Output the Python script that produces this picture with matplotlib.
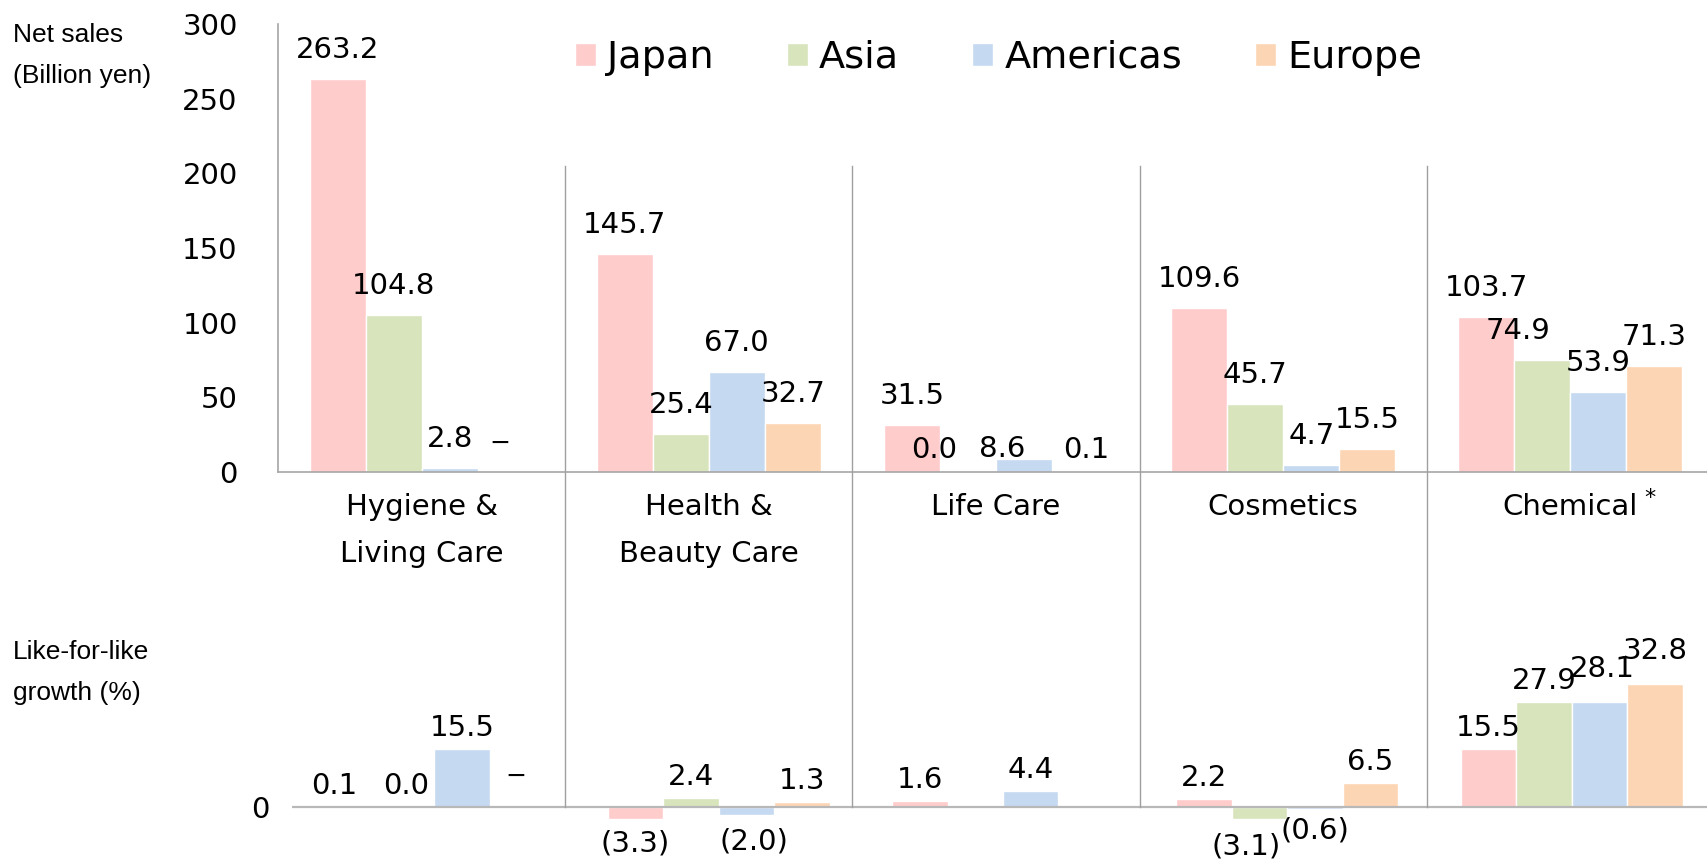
import numpy as np
import matplotlib
matplotlib.use("Agg")
import matplotlib.pyplot as plt
from matplotlib.lines import Line2D
from matplotlib.transforms import blended_transform_factory

# ── data ───────────────────────────────────────────────────────────────────────
categories = ["Hygiene &\nLiving Care", "Health &\nBeauty Care", "Life Care",
              "Cosmetics", "Chemical"]
regions = ["Japan", "Asia", "Americas", "Europe"]

# net sales, billion yen   (None -> shown as a dash, no bar)
sales_japan    = [263.2, 145.7, 31.5, 109.6, 103.7]
sales_asia     = [104.8,  25.4,  0.0,  45.7,  74.9]
sales_americas = [  2.8,  67.0,  8.6,   4.7,  53.9]
sales_europe   = [ None,  32.7,  0.1,  15.5,  71.3]

# like-for-like growth, %  (None -> dash, nan -> nothing at all)
growth_japan    = [ 0.1, -3.3,    1.6,  2.2, 15.5]
growth_asia     = [ 0.0,  2.4, np.nan, -3.1, 27.9]
growth_americas = [15.5, -2.0,    4.4, -0.6, 28.1]
growth_europe   = [None,  1.3, np.nan,  6.5, 32.8]

sales_ticks = [0, 50, 100, 150, 200, 250, 300]

# ── styling ────────────────────────────────────────────────────────────────────
COLORS   = ["#FFCCCC", "#D8E4BC", "#C5D9F1", "#FCD5B4"]
AXIS_COL = "#A6A6A6"
ZERO_COL = "#B8B8B8"
SEP_COL  = "#A0A0A0"
NUM_FONT = "DejaVu Sans"
SIDE_FONT = ["Liberation Sans", "DejaVu Sans"]

W, H, DPI = 1708, 866, 100
PT = 72 / DPI          # pixels -> points
BAR_W = 0.195

plt.rcParams.update({
    "font.family": NUM_FONT,
    "font.size": 21,
    "text.color": "black",
})

# hand placed label tweaks, in pixels (dx, dy): panel, series, category
NUDGE = {
    ("sales", 1, 2): (-34, -7),
    ("sales", 2, 2): (-22, -19),
    ("sales", 3, 2): (6, -7),
    ("sales", 1, 4): (-24, 0),
    ("sales", 3, 0): (-6, 0),
    ("growth", 0, 0): (-17, 0),
    ("growth", 3, 0): (-2, 10),
    ("growth", 1, 3): (-14, -4),
    ("growth", 2, 3): (0, 3),
    ("growth", 2, 1): (8, -3),
    ("growth", 2, 4): (3, 12),
    ("growth", 3, 4): (0, 12),
}


def fmt(v):
    if v is None:
        return "\u2212"
    if np.isnan(v):
        return ""
    return f"({abs(v):.1f})" if v < 0 else f"{v:.1f}"


def draw_panel(ax, series, panel, up_px, down_px):
    x = np.arange(len(categories))
    bars = []
    for i, vals in enumerate(series):
        h = np.array([np.nan if v is None else v for v in vals], dtype=float)
        b = ax.bar(x + (i - 1.5) * BAR_W, h, width=BAR_W, color=COLORS[i],
                   edgecolor="white", linewidth=1.0, zorder=2, label=regions[i])
        bars.append(b)
        for j, v in enumerate(vals):
            txt = fmt(v)
            if not txt:
                continue
            y = 0 if v is None else v
            dx, dy = NUDGE.get((panel, i, j), (0, 0))
            off = -down_px if (v is not None and v < 0) else up_px
            ax.annotate(txt, xy=(x[j] + (i - 1.5) * BAR_W, y),
                        xytext=(dx * PT, (off + dy) * PT),
                        textcoords="offset points", ha="center", va="center",
                        fontsize=18 if v is None else 21,
                        annotation_clip=False)
    return bars


fig = plt.figure(figsize=(W / DPI, H / DPI), dpi=DPI)

# ── top: net sales ─────────────────────────────────────────────────────────────
ax_top = fig.add_axes([278 / W, 1 - 472 / H, 1436 / W, 448 / H])
bars = draw_panel(ax_top, [sales_japan, sales_asia, sales_americas, sales_europe],
                  "sales", 29, 24)
ax_top.set_xlim(-0.5, 4.5)
ax_top.set_ylim(0, 300)
ax_top.set_yticks(sales_ticks)
ax_top.set_xticks(range(len(categories)))
ax_top.set_xticklabels(categories, fontsize=21, linespacing=1.85)
ax_top.tick_params(axis="x", length=0, pad=15)
ax_top.tick_params(axis="y", length=0, pad=29, labelsize=21)
for s in ("top", "right"):
    ax_top.spines[s].set_visible(False)
for s in ("left", "bottom"):
    ax_top.spines[s].set_color(AXIS_COL)
    ax_top.spines[s].set_linewidth(1.2)
ax_top.annotate("*", xy=(4, 0), xytext=(80 * PT, -26 * PT),
                textcoords="offset points", ha="center", va="center",
                fontsize=16, annotation_clip=False)

# ── bottom: like-for-like growth ───────────────────────────────────────────────
ax_bot = fig.add_axes([292 / W, 1 - 844.5 / H, 1422 / W, 187.5 / H])
draw_panel(ax_bot, [growth_japan, growth_asia, growth_americas, growth_europe],
           "growth", 21, 24)
ax_bot.set_xlim(-0.5, 4.5)
ax_bot.set_ylim(-10, 40)
ax_bot.axhline(0, color=ZERO_COL, linewidth=1.6, zorder=3)
ax_bot.set_xticks([])
ax_bot.set_yticks([0])
ax_bot.tick_params(axis="y", length=0, pad=16, labelsize=21)
for s in ax_bot.spines.values():
    s.set_visible(False)
ax_bot.patch.set_alpha(0)

# category separators running through both panels
trans = blended_transform_factory(ax_top.transData, fig.transFigure)
for k in range(1, len(categories)):
    fig.add_artist(Line2D([k - 0.5, k - 0.5], [1 - 166 / H, 1 - 807 / H],
                          transform=trans, color=SEP_COL, linewidth=1.0))

# side captions
fig.text(13 / W, 1 - 35 / H, "Net sales", family=SIDE_FONT, fontsize=19, va="center")
fig.text(13 / W, 1 - 76 / H, "(Billion yen)", family=SIDE_FONT, fontsize=19, va="center")
fig.text(13 / W, 1 - 652 / H, "Like-for-like", family=SIDE_FONT, fontsize=19, va="center")
fig.text(13 / W, 1 - 693 / H, "growth (%)", family=SIDE_FONT, fontsize=19, va="center")

# legend
fig.legend(handles=bars, labels=regions, loc="center left",
           bbox_to_anchor=(575 / W, 1 - 58 / H), ncol=4, frameon=False,
           fontsize=27.5, handlelength=0.55, handleheight=0.55,
           handletextpad=0.3, columnspacing=1.9, borderpad=0, borderaxespad=0)

fig.savefig("out.png", dpi=DPI, facecolor="white")
